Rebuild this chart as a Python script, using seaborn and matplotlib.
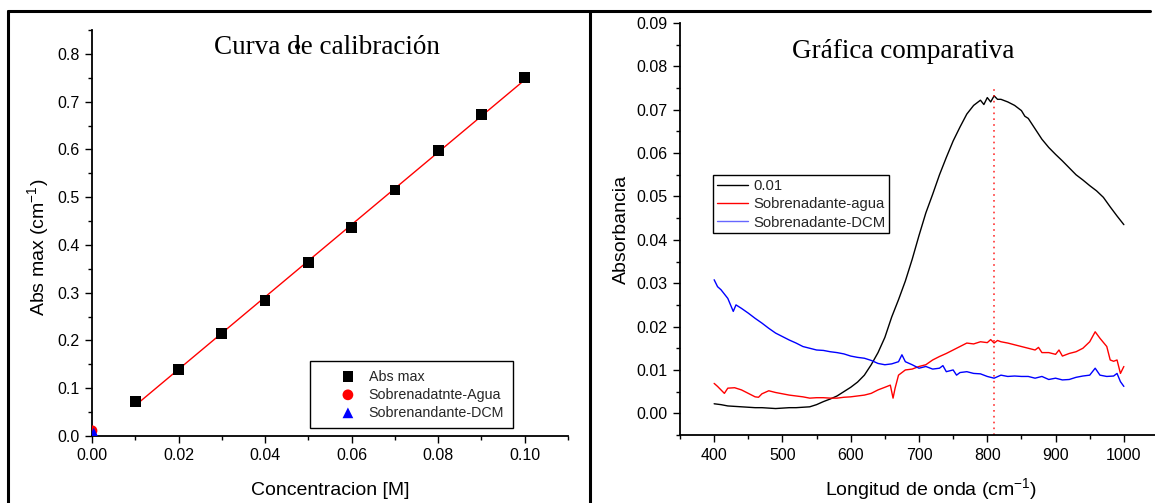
import numpy as np
import pandas as pd
import matplotlib
matplotlib.use("Agg")
import matplotlib.pyplot as plt
import seaborn as sns
from matplotlib.lines import Line2D
from matplotlib.ticker import MultipleLocator

# ---------------- data: calibration curve ----------------
conc = [0.01, 0.02, 0.03, 0.04, 0.05, 0.06, 0.07, 0.08, 0.09, 0.10]
abs_max = [0.073, 0.140, 0.215, 0.284, 0.364, 0.436, 0.515, 0.597, 0.673, 0.750]
agua_x = [0.0]
agua_y = [0.011]
dcm_x = [0.0004]
dcm_y = [0.006]
stray_x = [0.0475]
stray_y = [0.815]

# ---------------- data: comparative spectra ----------------
wl_ref = [400, 410, 420, 430, 440, 450, 460, 470, 480, 490, 500, 510, 520, 530, 540,
          550, 560, 570, 580, 590, 600, 610, 620, 630, 640, 650, 660, 670, 680, 690,
          700, 710, 720, 730, 740, 750, 760, 770, 780, 790, 795, 800, 805, 810, 815,
          820, 830, 840, 850, 855, 860, 870, 880, 890, 900, 910, 920, 930, 940, 950,
          960, 970, 980, 990, 1000]
abs_ref = [0.0022, 0.0020, 0.0017, 0.0016, 0.0015, 0.0014, 0.0013, 0.0013, 0.0012, 0.0011,
           0.0012, 0.0013, 0.0013, 0.0014, 0.0015, 0.0020, 0.0027, 0.0033, 0.0040, 0.0050,
           0.0060, 0.0072, 0.0088, 0.0112, 0.0140, 0.0175, 0.0222, 0.0262, 0.0305, 0.0355,
           0.0410, 0.0462, 0.0505, 0.0550, 0.0590, 0.0628, 0.0660, 0.0690, 0.0710, 0.0722,
           0.0712, 0.0728, 0.0718, 0.0732, 0.0724, 0.0724, 0.0718, 0.0710, 0.0698, 0.0685,
           0.0680, 0.0656, 0.0632, 0.0613, 0.0597, 0.0582, 0.0566, 0.0550, 0.0538, 0.0525,
           0.0513, 0.0498, 0.0476, 0.0455, 0.0435]

wl_agua = [400, 405, 410, 415, 420, 430, 440, 450, 460, 465, 470, 480, 490, 500, 510,
           520, 530, 540, 550, 560, 570, 580, 590, 600, 610, 620, 630, 640, 650, 658,
           662, 665, 670, 680, 690, 700, 710, 720, 730, 740, 750, 760, 770, 780, 790,
           800, 805, 810, 815, 820, 830, 840, 850, 860, 870, 875, 880, 890, 900, 905,
           910, 920, 930, 940, 950, 958, 965, 975, 980, 985, 990, 995, 1000]
abs_agua = [0.0069, 0.0062, 0.0054, 0.0046, 0.0058, 0.0059, 0.0054, 0.0046, 0.0038, 0.0037,
            0.0045, 0.0052, 0.0048, 0.0045, 0.0042, 0.0040, 0.0038, 0.0035, 0.0036, 0.0036,
            0.0035, 0.0035, 0.0037, 0.0038, 0.0040, 0.0042, 0.0046, 0.0054, 0.0060, 0.0065,
            0.0035, 0.0058, 0.0088, 0.0100, 0.0102, 0.0108, 0.0112, 0.0123, 0.0131, 0.0138,
            0.0146, 0.0154, 0.0162, 0.0160, 0.0165, 0.0163, 0.0170, 0.0162, 0.0168, 0.0165,
            0.0162, 0.0158, 0.0154, 0.0150, 0.0146, 0.0152, 0.0140, 0.0140, 0.0136, 0.0146,
            0.0132, 0.0138, 0.0142, 0.0150, 0.0165, 0.0188, 0.0173, 0.0154, 0.0123, 0.0120,
            0.0123, 0.0092, 0.0108]

wl_dcm = [400, 405, 410, 420, 428, 432, 440, 450, 460, 470, 480, 490, 500, 510, 520,
          530, 540, 550, 560, 570, 580, 590, 600, 610, 620, 630, 640, 650, 660, 670,
          675, 680, 690, 700, 710, 720, 730, 735, 740, 750, 755, 760, 770, 780, 790,
          800, 810, 820, 830, 840, 850, 860, 870, 880, 890, 900, 910, 920, 930, 940,
          950, 958, 965, 975, 985, 990, 995, 1000]
abs_dcm = [0.0308, 0.0292, 0.0285, 0.0265, 0.0235, 0.0250, 0.0242, 0.0231, 0.0219, 0.0208,
           0.0196, 0.0185, 0.0177, 0.0169, 0.0162, 0.0154, 0.0150, 0.0146, 0.0145, 0.0142,
           0.0140, 0.0137, 0.0132, 0.0129, 0.0127, 0.0122, 0.0115, 0.0112, 0.0114, 0.0119,
           0.0135, 0.0119, 0.0112, 0.0104, 0.0108, 0.0102, 0.0104, 0.0110, 0.0096, 0.0100,
           0.0088, 0.0094, 0.0096, 0.0092, 0.0091, 0.0085, 0.0081, 0.0088, 0.0085, 0.0086,
           0.0085, 0.0085, 0.0081, 0.0085, 0.0078, 0.0081, 0.0077, 0.0078, 0.0083, 0.0086,
           0.0088, 0.0104, 0.0088, 0.0085, 0.0086, 0.0092, 0.0073, 0.0062]

peak_wl = [810]

# ---------------- style ----------------
sns.set_style("ticks")
plt.rcParams["font.family"] = ["Liberation Sans", "DejaVu Sans"]
plt.rcParams["mathtext.default"] = "regular"

W, H = 1155, 503
fig = plt.figure(figsize=(W / 100, H / 100), dpi=100)
fig.patch.set_facecolor("white")

ax1 = fig.add_axes([92 / W, 1 - 436 / H, 476 / W, 406 / H])
ax2 = fig.add_axes([680 / W, 1 - 435 / H, 478 / W, 412 / H])

for ax in (ax1, ax2):
    ax.set_facecolor("white")
    sns.despine(ax=ax)
    for s in ("left", "bottom"):
        ax.spines[s].set_color("black")
        ax.spines[s].set_linewidth(1.3)
    ax.tick_params(which="major", direction="out", length=5, width=1, colors="black",
                   labelsize=11.5, pad=4)
    ax.tick_params(which="minor", direction="out", length=3, width=1, colors="black")

# ---------------- left panel ----------------
df_cal = pd.DataFrame({"c": conc, "a": abs_max})
sns.regplot(data=df_cal, x="c", y="a", ax=ax1, scatter=False, ci=None, truncate=True,
            color="red", line_kws={"lw": 1})
sns.scatterplot(x=conc, y=abs_max, ax=ax1, marker="s", s=60, color="black",
                edgecolor="none", label="Abs max", zorder=3)
sns.scatterplot(x=agua_x, y=agua_y, ax=ax1, marker="o", s=60, color="red",
                edgecolor="none", label="Sobrenadatnte-Agua", zorder=3)
sns.scatterplot(x=dcm_x, y=dcm_y, ax=ax1, marker="^", s=60, color="blue",
                edgecolor="none", label="Sobrenandante-DCM", zorder=3)
sns.scatterplot(x=stray_x, y=stray_y, ax=ax1, marker="o", s=14, color="black",
                edgecolor="none", zorder=3)

ax1.set_xlim(0, 0.11)
ax1.set_ylim(0, 0.85)
ax1.xaxis.set_minor_locator(MultipleLocator(0.01))
ax1.yaxis.set_minor_locator(MultipleLocator(0.05))
ax1.set_xticks([0, 0.02, 0.04, 0.06, 0.08, 0.10])
ax1.set_xticklabels(["0.00", "0.02", "0.04", "0.06", "0.08", "0.10"])
ax1.set_yticks([0, 0.1, 0.2, 0.3, 0.4, 0.5, 0.6, 0.7, 0.8])
ax1.set_yticklabels(["0.0", "0.1", "0.2", "0.3", "0.4", "0.5", "0.6", "0.7", "0.8"])
ax1.set_xlabel("Concentracion [M]", fontsize=14, color="black")
ax1.set_ylabel("Abs max (cm$^{-1}$)", fontsize=14, color="black")
ax1.xaxis.set_label_coords(0.5, -0.113)
ax1.yaxis.set_label_coords(-0.087, 0.465)

leg1 = ax1.legend(loc="upper left", bbox_to_anchor=(310 / W, 1 - 361 / H),
                  bbox_transform=fig.transFigure, fontsize=10.3, frameon=True,
                  fancybox=False, framealpha=1, edgecolor="black",
                  borderpad=0.6, labelspacing=0.28, handletextpad=-0.6,
                  borderaxespad=0, handlelength=4.1)
leg1.get_frame().set_linewidth(1)

# ---------------- right panel ----------------
sns.lineplot(x=wl_ref, y=abs_ref, ax=ax2, color="black", lw=1, label="0.01",
             estimator=None)
sns.lineplot(x=wl_agua, y=abs_agua, ax=ax2, color="red", lw=1,
             label="Sobrenadante-agua", estimator=None)
sns.lineplot(x=wl_dcm, y=abs_dcm, ax=ax2, color="blue", lw=1,
             label="Sobrenadante-DCM", estimator=None)
ax2.vlines(peak_wl, -0.005, 0.0757, colors="red", linestyles=(0, (1, 2.5)), lw=1.2,
           alpha=0.8)

ax2.set_xlim(350, 1050)
ax2.set_ylim(-0.005, 0.09)
ax2.xaxis.set_minor_locator(MultipleLocator(50))
ax2.set_xticks([400, 500, 600, 700, 800, 900, 1000])
ax2.set_yticks([0, 0.01, 0.02, 0.03, 0.04, 0.05, 0.06, 0.07, 0.08, 0.09])
ax2.set_yticklabels(["0.00", "0.01", "0.02", "0.03", "0.04", "0.05", "0.06", "0.07",
                     "0.08", "0.09"])
ax2.yaxis.set_minor_locator(MultipleLocator(0.005))
ax2.set_xlabel("Longitud de onda (cm$^{-1}$)", fontsize=14, color="black")
ax2.set_ylabel("Absorbancia", fontsize=14, color="black")
ax2.xaxis.set_label_coords(0.525, -0.1)
ax2.yaxis.set_label_coords(-0.105, 0.5)

leg2 = ax2.legend(loc="upper left", bbox_to_anchor=(713 / W, 1 - 175 / H),
                  bbox_transform=fig.transFigure, fontsize=10.7, frameon=True,
                  fancybox=False, framealpha=1, edgecolor="black",
                  borderpad=0.25, labelspacing=0.3, handletextpad=0.35,
                  borderaxespad=0, handlelength=2.1)
leg2.get_frame().set_linewidth(1)
leg2.get_lines()[2].set_alpha(0.6)

# ---------------- titles ----------------
fig.text(327 / W, 1 - 47 / H, "Curva de calibración", ha="center", va="center",
         fontsize=19.5, family=["Liberation Serif", "DejaVu Serif"], color="black")
fig.text(903 / W, 1 - 52 / H, "Gráfica comparativa", ha="center", va="center",
         fontsize=19.5, family=["Liberation Serif", "DejaVu Serif"], color="black")

# ---------------- page frame lines ----------------
fig.add_artist(Line2D([8 / W, 1150 / W], [1 - 11 / H, 1 - 11 / H],
                      transform=fig.transFigure, color="black", lw=2.2))
fig.add_artist(Line2D([8 / W, 8 / W], [0, 1 - 11 / H],
                      transform=fig.transFigure, color="black", lw=2.2))
fig.add_artist(Line2D([590 / W, 590 / W], [0, 1 - 11 / H],
                      transform=fig.transFigure, color="black", lw=2.2))

fig.savefig("out.png", dpi=100, facecolor="white")
